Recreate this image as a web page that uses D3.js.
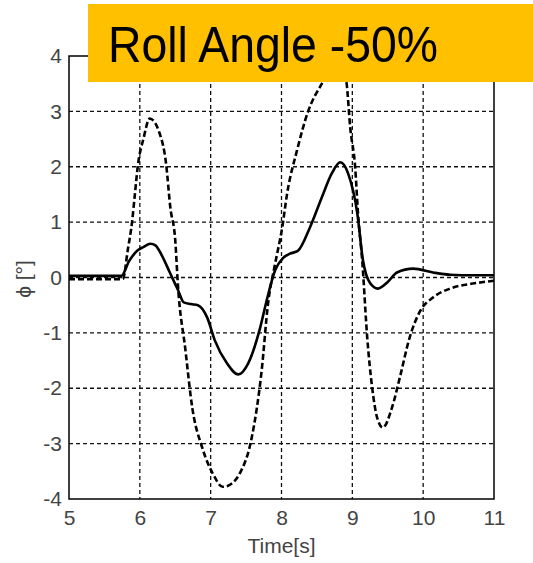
<!DOCTYPE html>
<html>
<head>
<meta charset="utf-8">
<script src="https://cdn.jsdelivr.net/npm/d3@7"></script>
<style>
  body { margin: 0; background: #fff; }
  text { font-family: "Liberation Sans", Arial, sans-serif; }
</style>
</head>
<body>
<div id="chart"></div>
<script>
// solid curve
const solidT = [5, 5.5, 5.74, 5.85, 5.97, 6.05, 6.15, 6.22, 6.31, 6.42, 6.54, 6.62, 6.72, 6.82, 6.95, 7.06, 7.23, 7.39, 7.53, 7.70, 7.79, 7.91, 8.02, 8.12, 8.23, 8.4, 8.57, 8.71, 8.83, 8.94, 9.07, 9.15, 9.25, 9.36, 9.5, 9.63, 9.86, 10.14, 10.38, 10.7, 11];
const solidPhi = [0.03, 0.03, 0.03, 0.3, 0.49, 0.55, 0.61, 0.58, 0.4, 0.1, -0.23, -0.45, -0.48, -0.5, -0.72, -1.14, -1.55, -1.75, -1.55, -0.9, -0.42, 0.13, 0.35, 0.43, 0.48, 0.9, 1.45, 1.88, 2.08, 1.88, 1.16, 0.31, -0.1, -0.2, -0.08, 0.09, 0.16, 0.09, 0.05, 0.04, 0.04];

// dashed curve
const dashT = [5, 5.5, 5.76, 5.83, 5.89, 5.93, 5.97, 6.05, 6.14, 6.28, 6.37, 6.43, 6.5, 6.54, 6.64, 6.74, 6.88, 7.03, 7.17, 7.3, 7.41, 7.58, 7.72, 7.81, 7.91, 8.01, 8.08, 8.22, 8.37, 8.57, 8.75, 8.88, 8.92, 8.97, 9.04, 9.08, 9.14, 9.21, 9.28, 9.35, 9.43, 9.56, 9.67, 9.81, 9.96, 10.14, 10.38, 10.7, 11];
const dashPhi = [-0.03, -0.03, -0.03, 0.5, 1.0, 1.5, 2.0, 2.5, 2.87, 2.6, 2.06, 1.27, 0.67, -0.18, -1.27, -2.35, -3.07, -3.54, -3.78, -3.72, -3.54, -2.89, -1.68, -0.47, 0.25, 0.9, 1.52, 2.3, 2.98, 3.5, 3.85, 3.8, 3.5, 2.71, 1.99, 1.16, 0.3, -1.08, -1.99, -2.53, -2.71, -2.35, -1.81, -1.08, -0.6, -0.36, -0.2, -0.11, -0.06];

const xTicks = [5, 6, 7, 8, 9, 10, 11];
const yTicks = [-4, -3, -2, -1, 0, 1, 2, 3, 4];

const title = "Roll Angle -50%";

const width = 533, height = 563;
const mLeft = 69, mRight = 494, mTop = 56, mBottom = 499;

let svg = d3.select("#chart").append("svg")
  .attr("width", width)
  .attr("height", height);

svg.append("rect").attr("width", width).attr("height", height).attr("fill", "#fff");

let x = d3.scaleLinear().domain([5, 11]).range([mLeft, mRight]);
let y = d3.scaleLinear().domain([-4, 4]).range([mBottom, mTop]);

// grid
let grid = svg.append("g")
  .attr("stroke", "#111")
  .attr("stroke-width", 1.3)
  .attr("stroke-dasharray", "4,3");

grid.selectAll("line.v")
  .data(xTicks.slice(1, -1))
  .enter().append("line")
  .attr("x1", d => x(d)).attr("x2", d => x(d))
  .attr("y1", mTop).attr("y2", mBottom);

grid.selectAll("line.h")
  .data(yTicks.slice(1, -1))
  .enter().append("line")
  .attr("x1", mLeft).attr("x2", mRight)
  .attr("y1", d => y(d)).attr("y2", d => y(d));

// curves
let line = d3.line()
  .x(d => x(d[0]))
  .y(d => y(d[1]))
  .curve(d3.curveMonotoneX);

svg.append("path")
  .attr("d", line(d3.zip(dashT, dashPhi)))
  .attr("fill", "none")
  .attr("stroke", "#000")
  .attr("stroke-width", 2.6)
  .attr("stroke-dasharray", "6,3");

svg.append("path")
  .attr("d", line(d3.zip(solidT, solidPhi)))
  .attr("fill", "none")
  .attr("stroke", "#000")
  .attr("stroke-width", 2.6);

// frame
svg.append("rect")
  .attr("x", mLeft).attr("y", mTop)
  .attr("width", mRight - mLeft).attr("height", mBottom - mTop)
  .attr("fill", "none")
  .attr("stroke", "#000")
  .attr("stroke-width", 1.5);

// axes labels
let fmt = d => String(d);

let xAxis = svg.append("g")
  .attr("transform", "translate(0," + mBottom + ")")
  .call(d3.axisBottom(x).tickValues(xTicks).tickSize(0).tickPadding(11).tickFormat(fmt));
xAxis.select(".domain").remove();

let yAxis = svg.append("g")
  .attr("transform", "translate(" + mLeft + ",0)")
  .call(d3.axisLeft(y).tickValues(yTicks).tickSize(0).tickPadding(7).tickFormat(fmt));
yAxis.select(".domain").remove();

svg.selectAll(".tick text")
  .attr("font-family", "Liberation Sans, Arial, sans-serif")
  .attr("font-size", 21)
  .attr("fill", "#444");

svg.append("text")
  .attr("x", (mLeft + mRight) / 2)
  .attr("y", 553)
  .attr("text-anchor", "middle")
  .attr("font-size", 21)
  .attr("fill", "#444")
  .text("Time[s]");

svg.append("text")
  .attr("transform", "translate(31,279) rotate(-90)")
  .attr("text-anchor", "middle")
  .attr("font-size", 21)
  .attr("fill", "#444")
  .text("\u03d5 [\u00b0]");

// title box
svg.append("rect")
  .attr("x", 88).attr("y", 4)
  .attr("width", width - 88).attr("height", 78)
  .attr("fill", "#FFC000");

svg.append("text")
  .attr("x", 108)
  .attr("y", 62)
  .attr("font-size", 50)
  .attr("fill", "#000")
  .attr("textLength", 330)
  .attr("lengthAdjust", "spacingAndGlyphs")
  .text(title);
</script>
</body>
</html>
